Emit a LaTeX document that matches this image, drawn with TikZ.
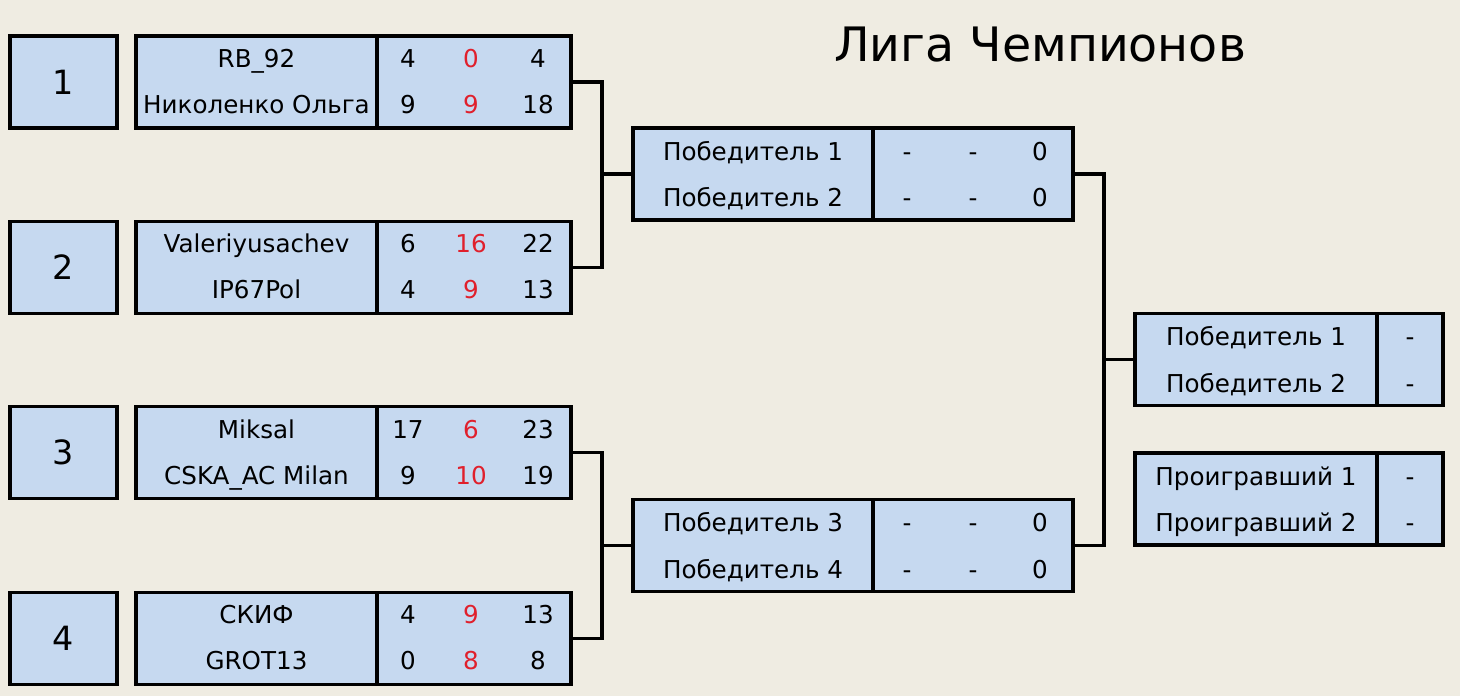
\documentclass[tikz,border=0pt]{standalone}
\usepackage{fontspec}
\setmainfont{DejaVu Sans}
\usepackage{xcolor}
\definecolor{bg}{HTML}{EFECE2}
\definecolor{cell}{HTML}{C6D9F0}
\definecolor{pts}{HTML}{E0202C}
\tikzset{
  box/.style={draw, fill=cell, line width=2pt, minimum height=1.84cm, inner sep=0pt},
  seed/.style={box, minimum width=2.14cm, font=\fontsize{19}{22}\selectfont},
  team/.style={box, minimum width=4.82cm},
  score/.style={box, minimum width=3.88cm},
  txt/.style={font=\fontsize{14}{16}\selectfont, text height=10pt, text depth=0pt, inner sep=0pt},
  bonus/.style={txt, text=pts},
  link/.style={line width=2pt}
}
\begin{document}
\begin{tikzpicture}[x=0.02cm,y=-0.02cm]
\fill[bg] (0,0) rectangle (1460,696);

\node(title) at (1040,45){\fontsize{27}{30}\selectfont Лига Чемпионов};

% first round
\node[seed](1) at (63.5,82){1};
\node[seed](2) at (63.5,267.5){2};
\node[seed](3) at (63.5,452.5){3};
\node[seed](4) at (63.5,638.5){4};
\node[team](t1) at (256.5,82){};
\node[team](t2) at (256.5,267.5){};
\node[team](t3) at (256.5,452.5){};
\node[team](t4) at (256.5,638.5){};
\node[score](s1) at (474,82){};
\node[score](s2) at (474,267.5){};
\node[score](s3) at (474,452.5){};
\node[score](s4) at (474,638.5){};

\node[txt](a1) at (256.5,59){RB\_92};
\node[txt](b1) at (256.5,105){Николенко Ольга};
\node[txt](a2) at (256.5,244){Valeriyusachev};
\node[txt](b2) at (256.5,290){IP67Pol};
\node[txt](a3) at (256.5,430){Miksal};
\node[txt](b3) at (256.5,476){CSKA\_AC Milan};
\node[txt](a4) at (256.5,615){СКИФ};
\node[txt](b4) at (256.5,661){GROT13};

\node[txt](a1x) at (408,59){4};  \node[bonus](a1y) at (471,59){0};  \node[txt](a1z) at (538,59){4};
\node[txt](b1x) at (408,105){9}; \node[bonus](b1y) at (471,105){9}; \node[txt](b1z) at (538,105){18};
\node[txt](a2x) at (408,244){6}; \node[bonus](a2y) at (471,244){16}; \node[txt](a2z) at (538,244){22};
\node[txt](b2x) at (408,290){4}; \node[bonus](b2y) at (471,290){9}; \node[txt](b2z) at (538,290){13};
\node[txt](a3x) at (408,430){17}; \node[bonus](a3y) at (471,430){6}; \node[txt](a3z) at (538,430){23};
\node[txt](b3x) at (408,476){9}; \node[bonus](b3y) at (471,476){10}; \node[txt](b3z) at (538,476){19};
\node[txt](a4x) at (408,615){4}; \node[bonus](a4y) at (471,615){9}; \node[txt](a4z) at (538,615){13};
\node[txt](b4x) at (408,661){0}; \node[bonus](b4y) at (471,661){8}; \node[txt](b4z) at (538,661){8};

% semifinals
\node[team, minimum width=4.8cm](t5) at (753,174){};
\node[team, minimum width=4.8cm](t6) at (753,545.5){};
\node[score, minimum width=4cm](s5) at (973,174){};
\node[score, minimum width=4cm](s6) at (973,545.5){};
\node[txt](a5) at (753,152){Победитель 1};
\node[txt](b5) at (753,198){Победитель 2};
\node[txt](a6) at (753,523){Победитель 3};
\node[txt](b6) at (753,570){Победитель 4};
\node[txt](a5x) at (907,152){-}; \node[txt](a5y) at (973,152){-}; \node[txt](a5z) at (1040,152){0};
\node[txt](b5x) at (907,198){-}; \node[txt](b5y) at (973,198){-}; \node[txt](b5z) at (1040,198){0};
\node[txt](a6x) at (907,523){-}; \node[txt](a6y) at (973,523){-}; \node[txt](a6z) at (1040,523){0};
\node[txt](b6x) at (907,570){-}; \node[txt](b6y) at (973,570){-}; \node[txt](b6z) at (1040,570){0};

% final and third place
\node[team, minimum width=4.84cm](t7) at (1256,359.5){};
\node[team, minimum width=4.84cm](t8) at (1256,499){};
\node[score, minimum width=1.32cm](s7) at (1410,359.5){};
\node[score, minimum width=1.32cm](s8) at (1410,499){};
\node[txt](a7) at (1256,337){Победитель 1};
\node[txt](b7) at (1256,384){Победитель 2};
\node[txt](a8) at (1256,477){Проигравший 1};
\node[txt](b8) at (1256,523){Проигравший 2};
\node[txt](a7x) at (1410,337){-};
\node[txt](b7x) at (1410,384){-};
\node[txt](a8x) at (1410,477){-};
\node[txt](b8x) at (1410,523){-};

% connectors
\coordinate(j1) at (602,174);
\coordinate(j2) at (602,545.5);
\coordinate(j3) at (1104,359.5);
\draw[link](s1.east) -| (j1) |- (s2.east);
\draw[link](j1) -- (t5.west);
\draw[link](s3.east) -| (j2) |- (s4.east);
\draw[link](j2) -- (t6.west);
\draw[link](s5.east) -| (j3) |- (s6.east);
\draw[link](j3) -- (t7.west);
\end{tikzpicture}
\end{document}
